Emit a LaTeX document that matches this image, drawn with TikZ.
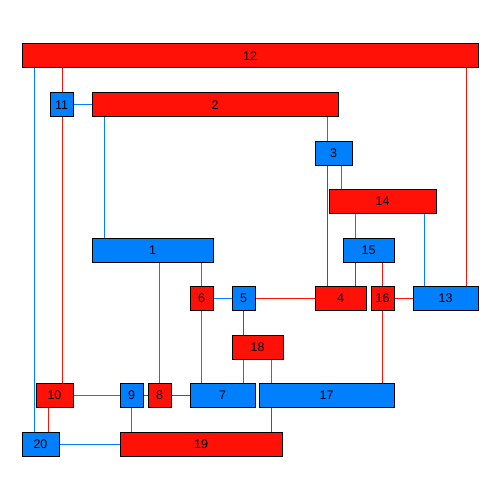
\documentclass[tikz,border=0pt]{standalone}
\usepackage{fontspec}
\setmainfont{Liberation Sans}
\usetikzlibrary{backgrounds}
\definecolor{rd}{RGB}{255,17,8}
\definecolor{bl}{RGB}{0,128,255}
\tikzset{
  box/.style={draw=black, line width=1pt, inner sep=0pt, minimum height=24pt, font=\fontsize{12.5}{14}\selectfont, text=black},
  rbox/.style={box, fill=rd},
  bbox/.style={box, fill=bl},
  rl/.style={draw=rd, line width=1pt},
  bln/.style={draw=bl, line width=1pt}
}
\begin{document}
\begin{tikzpicture}[x=1pt,y=-1pt]
\useasboundingbox (0,0) rectangle (500,500);
\node[rbox, minimum width=456pt] (n12) at (250,56) {12};
\node[bbox, minimum width=23pt] (n11) at (61.5,105) {11};
\node[rbox, minimum width=246pt] (n2) at (215,105) {2};
\node[bbox, minimum width=37pt] (n3) at (333.5,153) {3};
\node[rbox, minimum width=107pt] (n14) at (382.5,201) {14};
\node[bbox, minimum width=121pt] (n1) at (152.5,250) {1};
\node[bbox, minimum width=51pt] (n15) at (368.5,250) {15};
\node[rbox, minimum width=23pt] (n6) at (201.5,298) {6};
\node[bbox, minimum width=23pt] (n5) at (243.5,298) {5};
\node[rbox, minimum width=51pt] (n4) at (340.5,298) {4};
\node[rbox, minimum width=23pt] (n16) at (382.5,298) {16};
\node[bbox, minimum width=65pt] (n13) at (445.5,298) {13};
\node[rbox, minimum width=51pt] (n18) at (257.5,347) {18};
\node[rbox, minimum width=37pt] (n10) at (54.5,395) {10};
\node[bbox, minimum width=23pt] (n9) at (131.5,395) {9};
\node[rbox, minimum width=23pt] (n8) at (159.5,395) {8};
\node[bbox, minimum width=65pt] (n7) at (222.5,395) {7};
\node[bbox, minimum width=135pt] (n17) at (326.5,395) {17};
\node[bbox, minimum width=37pt] (n20) at (40.5,444) {20};
\node[rbox, minimum width=162pt] (n19) at (201,444) {19};
\begin{scope}[on background layer]
\draw[bln] (34,0 |- n12.south) -- (34,0 |- n20.north);
\draw[rl] (62,0 |- n12.south) -- (62,0 |- n10.north);
\draw[rl] (466,0 |- n12.south) -- (466,0 |- n13.north);
\draw[bln] (n11) -- (n2);
\draw[bln] (104,0 |- n2.south) -- (104,0 |- n1.north);
\draw[bln] (327,0 |- n2.south) -- (327,0 |- n3.north);
\draw[rl] (327,0 |- n3.south) -- (327,0 |- n4.north);
\draw[bln] (341,0 |- n3.south) -- (341,0 |- n14.north);
\draw[bln] (355,0 |- n14.south) -- (355,0 |- n15.north);
\draw[bln] (424.5,0 |- n14.south) -- (424.5,0 |- n13.north);
\draw[rl] (355,0 |- n15.south) -- (355,0 |- n4.north);
\draw[rl] (382.5,0 |- n15.south) -- (382.5,0 |- n16.north);
\draw[bln] (159.5,0 |- n1.south) -- (159.5,0 |- n8.north);
\draw[bln] (201.5,0 |- n1.south) -- (201.5,0 |- n6.north);
\draw[bln] (n6) -- (n5);
\draw[bln] (n6) -- (n6 |- n7.north);
\draw[rl] (n5) -- (n4);
\draw[rl] (n5) -- (n5 |- n18.north);
\draw[rl] (n16) -- (n13);
\draw[rl] (n16) -- (n16 |- n17.north);
\draw[bln] (243.5,0 |- n18.south) -- (243.5,0 |- n7.north);
\draw[bln] (271.5,0 |- n18.south) -- (271.5,0 |- n17.north);
\draw[rl] (271.5,0 |- n17.south) -- (271.5,0 |- n19.north);
\draw[bln] (n10) -- (n9);
\draw[rl] (n9) -- (n8);
\draw[rl] (n8) -- (n7);
\draw[rl] (48.5,0 |- n10.south) -- (48.5,0 |- n20.north);
\draw[bln] (n9) -- (n9 |- n19.north);
\draw[bln] (n20) -- (n19);
\end{scope}
\end{tikzpicture}
\end{document}
